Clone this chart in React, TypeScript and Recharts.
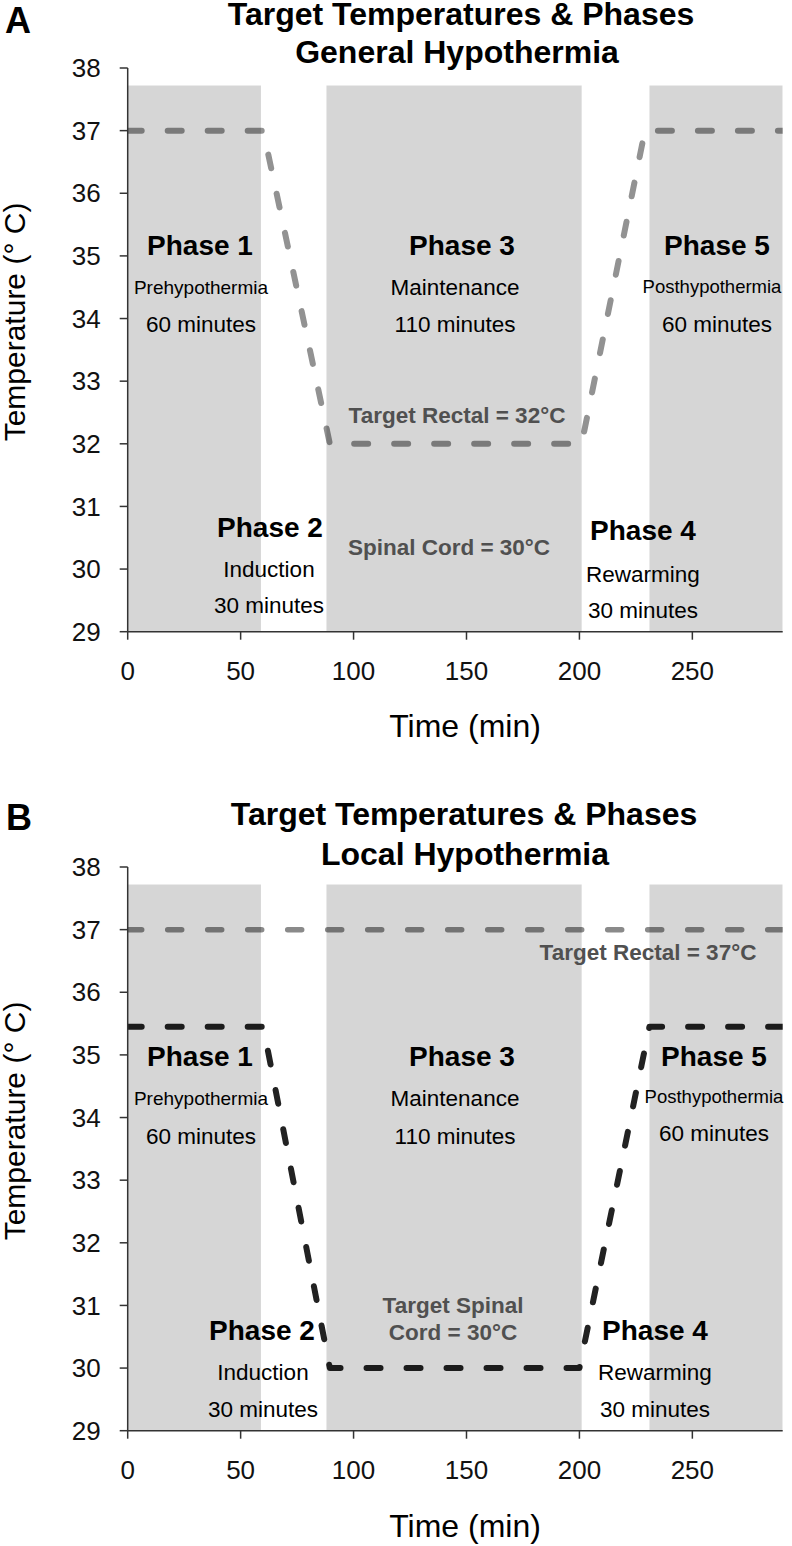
import React from 'react';
import { ComposedChart, Line, XAxis, YAxis, ReferenceArea } from 'recharts';

const FONT = '"Liberation Sans", Arial, Helvetica, sans-serif';

// ---- data ----
const xTicks = [0, 50, 100, 150, 200, 250];
const yTicks = [29, 30, 31, 32, 33, 34, 35, 36, 37, 38];
const bandStarts = [0, 88, 231];
const bandEnds = [59, 201, 290];
const bandTop = 37.72;

const timeA = [0, 60, 89.5, 201, 229, 290];
const rectalA = [37, 37, 32, 32, 37, 37];

const timeBRectal = [0, 290];
const rectalB = [37, 37];
const timeBSpinal = [0, 60, 89.5, 200, 231, 290];
const spinalB = [35.45, 35.45, 30, 30, 35.45, 35.45];

const toRows = (t: number[], v: number[]) => t.map((x, i) => ({ t: x, v: v[i] }));

type Series = { data: { t: number; v: number }[]; color: string; width: number };

const PLOT_BOTTOM = 631.7;
const XAXIS_H = 60;

function Panel({ height, series }: { height: number; series: Series[] }) {
  return (
    <ComposedChart
      width={792}
      height={height}
      margin={{ top: 68, right: 9.3, left: 0, bottom: height - PLOT_BOTTOM - XAXIS_H }}
    >
      <XAxis
        type="number"
        dataKey="t"
        domain={[0, 290]}
        ticks={xTicks}
        interval={0}
        allowDataOverflow
        height={XAXIS_H}
        tickSize={8}
        tickMargin={22}
        axisLine={{ stroke: '#333', strokeWidth: 1.5 }}
        tickLine={{ stroke: '#333', strokeWidth: 1.5 }}
        tick={{ fill: '#111', fontSize: 26, fontFamily: FONT }}
      />
      <YAxis
        type="number"
        domain={[29, 38]}
        ticks={yTicks}
        interval={0}
        allowDataOverflow
        width={127.7}
        tickSize={8}
        tickMargin={19}
        axisLine={{ stroke: '#333', strokeWidth: 1.5 }}
        tickLine={{ stroke: '#333', strokeWidth: 1.5 }}
        tick={{ fill: '#111', fontSize: 26, fontFamily: FONT }}
      />
      {series.map((s, i) => (
        <Line
          key={i}
          data={s.data}
          dataKey="v"
          type="linear"
          stroke={s.color}
          strokeWidth={s.width}
          strokeDasharray="14 26"
          strokeLinecap="round"
          strokeLinejoin="round"
          dot={false}
          activeDot={false}
          isAnimationActive={false}
        />
      ))}
      {bandStarts.map((b, i) => (
        <ReferenceArea
          key={'band' + i}
          x1={b}
          x2={bandEnds[i]}
          y1={29}
          y2={bandTop}
          fill="#000"
          fillOpacity={0.16}
          stroke="none"
          zIndex={450}
          ifOverflow="hidden"
        />
      ))}
    </ComposedChart>
  );
}

type Txt = { s: string; x: number; y: number; size: number; bold?: boolean; color?: string; anchor?: string };

const texts: Txt[] = [
  // panel A
  { s: 'A', x: 5, y: 33, size: 36, bold: true, anchor: 'start' },
  { s: 'Target Temperatures & Phases', x: 461, y: 25, size: 32, bold: true },
  { s: 'General Hypothermia', x: 457, y: 63, size: 32, bold: true },
  { s: 'Time (min)', x: 465, y: 737, size: 32 },
  { s: 'Phase 1', x: 200, y: 255, size: 28, bold: true },
  { s: 'Prehypothermia', x: 201, y: 294, size: 19 },
  { s: '60 minutes', x: 201, y: 332, size: 22.5 },
  { s: 'Phase 3', x: 462, y: 255, size: 28, bold: true },
  { s: 'Maintenance', x: 455, y: 295, size: 22.5 },
  { s: '110 minutes', x: 455, y: 332, size: 22.5 },
  { s: 'Phase 5', x: 717, y: 255, size: 28, bold: true },
  { s: 'Posthypothermia', x: 712, y: 293, size: 18.5 },
  { s: '60 minutes', x: 717, y: 332, size: 22.5 },
  { s: 'Target Rectal = 32°C', x: 457, y: 423, size: 22.5, bold: true, color: '#505050' },
  { s: 'Phase 2', x: 270, y: 537, size: 28, bold: true },
  { s: 'Induction', x: 269, y: 577, size: 22.5 },
  { s: '30 minutes', x: 269, y: 613, size: 22.5 },
  { s: 'Spinal Cord = 30°C', x: 449, y: 555, size: 22.5, bold: true, color: '#505050' },
  { s: 'Phase 4', x: 643, y: 540, size: 28, bold: true },
  { s: 'Rewarming', x: 643, y: 582, size: 22.5 },
  { s: '30 minutes', x: 643, y: 618, size: 22.5 },
  // panel B
  { s: 'B', x: 6, y: 830, size: 36, bold: true, anchor: 'start' },
  { s: 'Target Temperatures & Phases', x: 464, y: 825, size: 32, bold: true },
  { s: 'Local Hypothermia', x: 465, y: 865, size: 32, bold: true },
  { s: 'Time (min)', x: 465, y: 1537, size: 32 },
  { s: 'Target Rectal = 37°C', x: 648, y: 960, size: 22.5, bold: true, color: '#505050' },
  { s: 'Phase 1', x: 200, y: 1066, size: 28, bold: true },
  { s: 'Prehypothermia', x: 201, y: 1105, size: 19 },
  { s: '60 minutes', x: 201, y: 1144, size: 22.5 },
  { s: 'Phase 3', x: 462, y: 1066, size: 28, bold: true },
  { s: 'Maintenance', x: 455, y: 1106, size: 22.5 },
  { s: '110 minutes', x: 455, y: 1144, size: 22.5 },
  { s: 'Phase 5', x: 714, y: 1066, size: 28, bold: true },
  { s: 'Posthypothermia', x: 714, y: 1103, size: 18.5 },
  { s: '60 minutes', x: 714, y: 1141, size: 22.5 },
  { s: 'Target Spinal', x: 453, y: 1313, size: 22.5, bold: true, color: '#505050' },
  { s: 'Cord = 30°C', x: 453, y: 1340, size: 22.5, bold: true, color: '#505050' },
  { s: 'Phase 2', x: 262, y: 1340, size: 28, bold: true },
  { s: 'Induction', x: 263, y: 1380, size: 22.5 },
  { s: '30 minutes', x: 263, y: 1417, size: 22.5 },
  { s: 'Phase 4', x: 655, y: 1340, size: 28, bold: true },
  { s: 'Rewarming', x: 655, y: 1380, size: 22.5 },
  { s: '30 minutes', x: 655, y: 1417, size: 22.5 },
];

const yLabels = [
  { x: 25, y: 322 },
  { x: 25, y: 1121 },
];

export default function App() {
  const seriesA: Series[] = [{ data: toRows(timeA, rectalA), color: '#929292', width: 6 }];
  const seriesB: Series[] = [
    { data: toRows(timeBRectal, rectalB), color: '#8a8a8a', width: 5.5 },
    { data: toRows(timeBSpinal, spinalB), color: '#222222', width: 6 },
  ];
  return (
    <div style={{ position: 'absolute', left: 0, top: 0, width: 792, height: 1546, background: '#fff', fontFamily: FONT }}>
      <div style={{ position: 'absolute', left: 0, top: 0 }}>
        <Panel height={799} series={seriesA} />
      </div>
      <div style={{ position: 'absolute', left: 0, top: 799 }}>
        <Panel height={747} series={seriesB} />
      </div>
      <svg
        width={792}
        height={1546}
        style={{ position: 'absolute', left: 0, top: 0, pointerEvents: 'none' }}
      >
        {texts.map((t, i) => (
          <text
            key={i}
            x={t.x}
            y={t.y}
            fontSize={t.size}
            fontWeight={t.bold ? 'bold' : 'normal'}
            fill={t.color || '#000'}
            textAnchor={(t.anchor as any) || 'middle'}
            fontFamily={FONT}
          >
            {t.s}
          </text>
        ))}
        {yLabels.map((p, i) => (
          <text
            key={'yl' + i}
            x={p.x}
            y={p.y}
            fontSize={30}
            fill="#000"
            textAnchor="middle"
            fontFamily={FONT}
            transform={`rotate(-90, ${p.x}, ${p.y})`}
          >
            Temperature (° C)
          </text>
        ))}
      </svg>
    </div>
  );
}
